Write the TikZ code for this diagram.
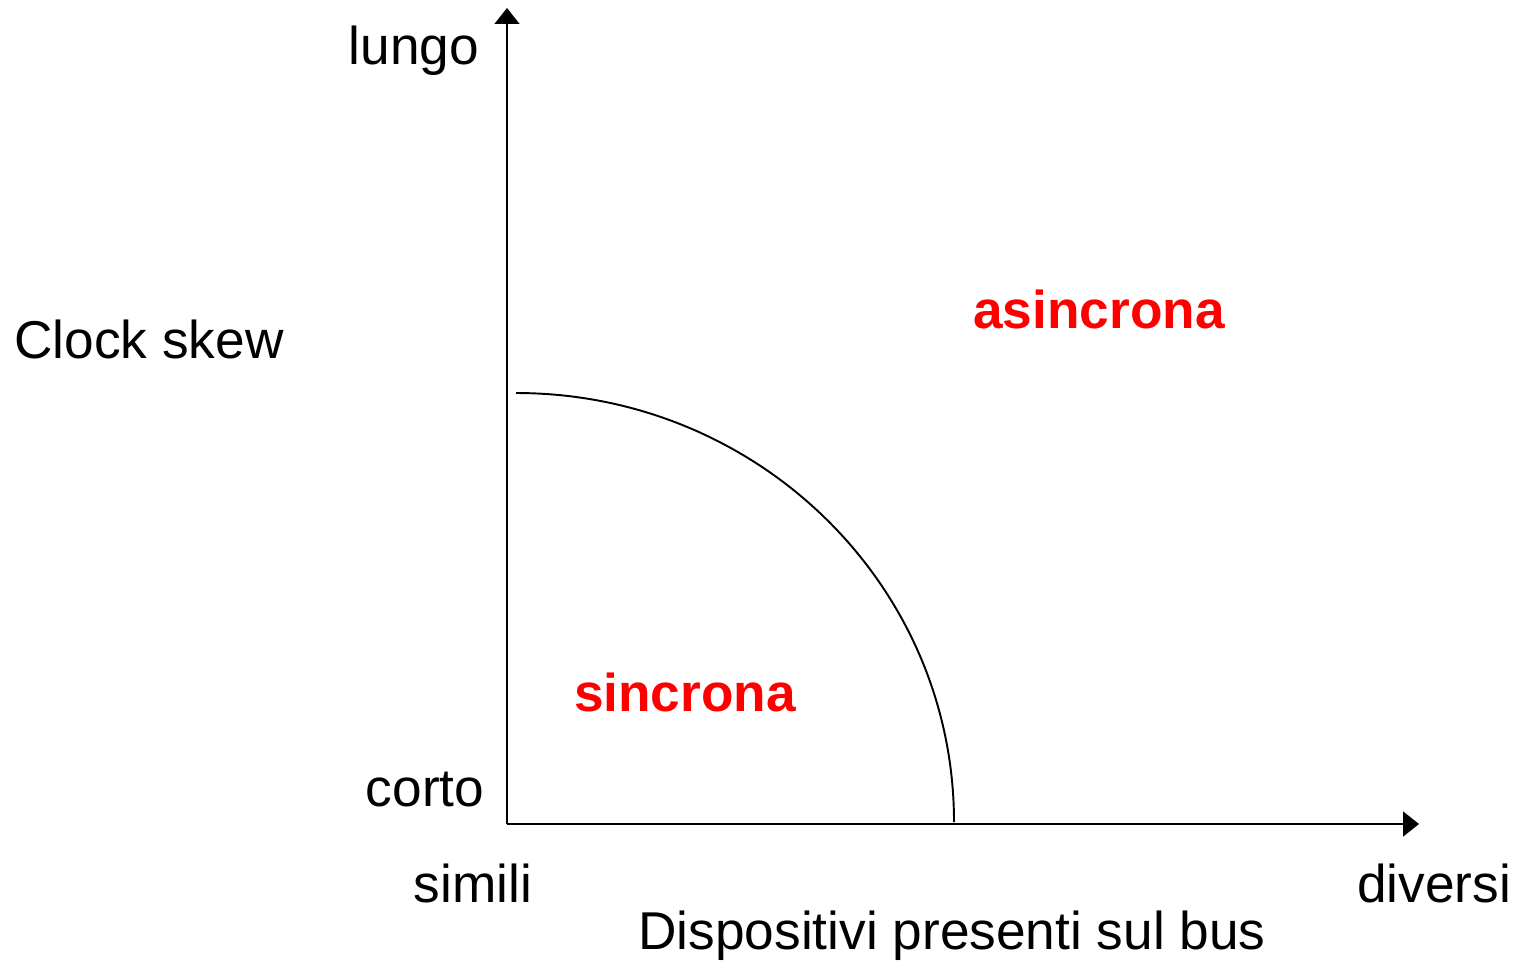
\documentclass[tikz,border=0pt]{standalone}
\usepackage{fontspec}
\setmainfont{Liberation Sans}
\usepackage{xcolor}
\usetikzlibrary{arrows.meta,positioning}
\definecolor{skewred}{HTML}{FF0000}
\tikzset{
  axislabel/.style={inner sep=0pt,font=\fontsize{30.3}{36}\selectfont},
  regionlabel/.style={inner sep=0pt,text=skewred,font=\fontsize{30.3}{36}\selectfont\bfseries},
  axis/.style={line width=1.1pt,-{Triangle[length=9pt,width=14pt]}},
  boundary/.style={line width=1.1pt}
}
\begin{document}
\begin{tikzpicture}[x=0.02cm,y=-0.02cm]
    \useasboundingbox (0,0) rectangle (1517,961);
    % axes
    \coordinate (origin) at (507,824);
    \coordinate (ytip) at (507,8);
    \coordinate (xtip) at (1419,824);
    \draw[axis] (origin) -- (ytip);
    \draw[axis] (origin) -- (xtip);

    % boundary between the two regions
    \coordinate (arcstart) at (516,393);
    \coordinate (arcend) at (954,822);
    \draw[boundary] (arcstart) .. controls (758,393) and (954,585) .. (arcend);

    \node[axislabel] (lungo) at (414,51) {lungo};
    \node[axislabel] (corto) at (425,790) {corto};
    \node[axislabel,anchor=west] (skew) at (14,339) {Clock skew};
    \node[axislabel] (simili) at (473,883) {simili};
    \node[axislabel] (diversi) at (1434,883) {diversi};
    \node[axislabel] (devices) at (952,936) {Dispositivi presenti sul bus};

    \node[regionlabel] (async) at (1099,309) {asincrona};
    \node[regionlabel] (sync) at (685,692) {sincrona};
\end{tikzpicture}
\end{document}
